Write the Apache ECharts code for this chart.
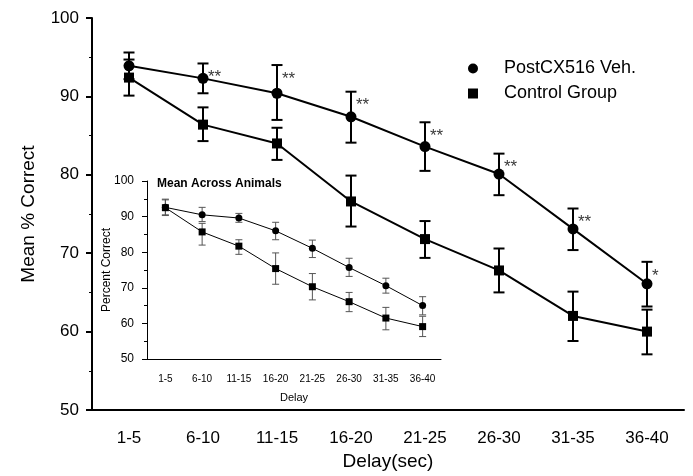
<!DOCTYPE html>
<html>
<head>
<meta charset="utf-8">
<script src="https://cdn.jsdelivr.net/npm/echarts@6/dist/echarts.min.js"></script>
<style>
  html, body { margin: 0; padding: 0; background: #fff; }
  #chart { width: 693px; height: 476px; }
</style>
</head>
<body>
<div id="chart"></div>
<script>
// delay bins
var categories = ['1-5', '6-10', '11-15', '16-20', '21-25', '26-30', '31-35', '36-40'];

// main chart
var postMean = [93.9, 92.3, 90.4, 87.4, 83.6, 80.1, 73.1, 66.1];
var postHigh = [95.6, 94.2, 94.0, 90.6, 86.7, 82.7, 75.7, 68.9];
var postLow = [92.2, 90.4, 87.0, 84.1, 80.5, 77.4, 70.4, 63.2];
var ctrlMean = [92.4, 86.4, 84.0, 76.6, 71.8, 67.8, 62.0, 60.0];
var ctrlHigh = [94.7, 88.6, 86.0, 79.9, 74.1, 70.6, 65.1, 62.8];
var ctrlLow = [90.1, 84.3, 81.9, 73.4, 69.4, 65.0, 58.8, 57.1];
var sig = ['', '**', '**', '**', '**', '**', '**', '*'];

// inset: mean across animals
var insetPostMean = [92.6, 90.5, 89.6, 86.0, 81.1, 75.7, 70.6, 65.0];
var insetPostHigh = [94.9, 92.6, 90.9, 88.4, 83.4, 78.3, 72.7, 67.5];
var insetPostLow = [90.5, 88.6, 88.4, 83.5, 78.5, 73.2, 68.5, 62.4];
var insetCtrlMean = [92.5, 85.7, 81.7, 75.4, 70.3, 66.1, 61.5, 59.1];
var insetCtrlHigh = [94.7, 88.1, 83.5, 79.8, 74.0, 68.7, 64.5, 62.0];
var insetCtrlLow = [90.3, 82.0, 79.4, 71.0, 66.6, 63.3, 58.2, 56.3];

var yTicks = [50, 100, 10]; // min, max, step

var FONT = '"Liberation Sans", Arial, sans-serif';

function errData(low, high) {
    return low.map(function (v, i) { return [i, v, high[i]]; });
}

// error bar with caps
function errorBar(capHalf, width, color) {
    return function (params, api) {
        var x = api.value(0);
        var lo = api.coord([x, api.value(1)]);
        var hi = api.coord([x, api.value(2)]);
        var style = { stroke: color, lineWidth: width };
        return {
            type: 'group',
            children: [
                { type: 'line', shape: { x1: hi[0], y1: hi[1], x2: lo[0], y2: lo[1] }, style: style },
                { type: 'line', shape: { x1: hi[0] - capHalf, y1: hi[1], x2: hi[0] + capHalf, y2: hi[1] }, style: style },
                { type: 'line', shape: { x1: lo[0] - capHalf, y1: lo[1], x2: lo[0] + capHalf, y2: lo[1] }, style: style }
            ]
        };
    };
}

var sigData = [];
sig.forEach(function (s, i) {
    if (s) sigData.push({ value: [i, postHigh[i]], label: { formatter: s } });
});

var mcharts = echarts.init(document.getElementById('chart'));

var option = {
    animation: false,
    textStyle: { fontFamily: FONT },
    title: {
        text: 'Mean Across Animals',
        left: 157,
        top: 178,
        padding: 0,
        textStyle: { fontFamily: FONT, fontSize: 12, fontWeight: 'bold', color: '#000' }
    },
    legend: {
        orient: 'vertical',
        left: 468,
        top: 59,
        padding: 0,
        itemWidth: 10,
        itemHeight: 10,
        itemGap: 6,
        textStyle: { fontFamily: FONT, fontSize: 18, color: '#000', padding: [0, 0, 0, 21], lineHeight: 19 },
        data: [
            { name: 'PostCX516 Veh.', icon: 'circle' },
            { name: 'Control Group', icon: 'rect' }
        ]
    },
    grid: [
        { left: 92, right: 9, top: 18, bottom: 64 },
        { left: 147, width: 294, top: 181, height: 178 }
    ],
    xAxis: [
        {
            gridIndex: 0,
            type: 'category',
            data: categories,
            name: 'Delay(sec)',
            nameLocation: 'middle',
            nameGap: 42,
            nameTextStyle: { fontFamily: FONT, fontSize: 19, color: '#000' },
            axisLine: { lineStyle: { color: '#000', width: 2 } },
            axisTick: { alignWithLabel: true, length: 7, lineStyle: { color: '#000', width: 2 } },
            axisLabel: { fontFamily: FONT, fontSize: 17, color: '#000', margin: 20 },
            splitLine: { show: false }
        },
        {
            gridIndex: 1,
            type: 'category',
            data: categories,
            name: 'Delay',
            nameLocation: 'middle',
            nameGap: 33,
            nameTextStyle: { fontFamily: FONT, fontSize: 11, color: '#000' },
            axisLine: { lineStyle: { color: '#000', width: 1 } },
            axisTick: { alignWithLabel: true, length: 5, lineStyle: { color: '#000' } },
            axisLabel: { fontFamily: FONT, fontSize: 10, color: '#000', margin: 15 },
            splitLine: { show: false }
        }
    ],
    yAxis: [
        {
            gridIndex: 0,
            type: 'value',
            min: yTicks[0],
            max: yTicks[1],
            interval: yTicks[2],
            name: 'Mean % Correct',
            nameLocation: 'middle',
            nameGap: 54,
            nameTextStyle: { fontFamily: FONT, fontSize: 19, color: '#000' },
            axisLine: { show: true, lineStyle: { color: '#000', width: 2 } },
            axisTick: { show: true, length: 6, lineStyle: { color: '#000', width: 2 } },
            minorTick: { show: true, splitNumber: 2, length: 3, lineStyle: { color: '#000', width: 1 } },
            axisLabel: { fontFamily: FONT, fontSize: 17, color: '#000', margin: 13 },
            splitLine: { show: false }
        },
        {
            gridIndex: 1,
            type: 'value',
            min: yTicks[0],
            max: yTicks[1],
            interval: yTicks[2],
            name: 'Percent Correct',
            nameLocation: 'middle',
            nameGap: 34,
            nameMoveOverlap: false,
            nameTextStyle: { fontFamily: FONT, fontSize: 12, color: '#000' },
            axisLine: { show: true, lineStyle: { color: '#000', width: 1 } },
            axisTick: { show: true, length: 5, lineStyle: { color: '#000' } },
            minorTick: { show: true, splitNumber: 2, length: 3, lineStyle: { color: '#000' } },
            axisLabel: { fontFamily: FONT, fontSize: 12, color: '#000', margin: 13 },
            splitLine: { show: false }
        }
    ],
    series: [
        // main chart error bars
        {
            type: 'custom', xAxisIndex: 0, yAxisIndex: 0, z: 2,
            renderItem: errorBar(5.5, 2, '#000'),
            encode: { x: 0, y: [1, 2] },
            data: errData(postLow, postHigh)
        },
        {
            type: 'custom', xAxisIndex: 0, yAxisIndex: 0, z: 2,
            renderItem: errorBar(5.5, 2, '#000'),
            encode: { x: 0, y: [1, 2] },
            data: errData(ctrlLow, ctrlHigh)
        },
        {
            name: 'PostCX516 Veh.',
            type: 'line', xAxisIndex: 0, yAxisIndex: 0, z: 3,
            symbol: 'circle', symbolSize: 11,
            lineStyle: { color: '#000', width: 2 },
            itemStyle: { color: '#000' },
            data: postMean
        },
        {
            name: 'Control Group',
            type: 'line', xAxisIndex: 0, yAxisIndex: 0, z: 3,
            symbol: 'rect', symbolSize: 10,
            lineStyle: { color: '#000', width: 2 },
            itemStyle: { color: '#000' },
            data: ctrlMean
        },
        // significance stars
        {
            type: 'scatter', xAxisIndex: 0, yAxisIndex: 0, z: 4,
            symbolSize: 0,
            silent: true,
            label: {
                show: true, position: 'right', distance: 5, offset: [0, 14],
                fontFamily: FONT, fontSize: 17, color: '#000'
            },
            data: sigData
        },
        // inset error bars
        {
            type: 'custom', xAxisIndex: 1, yAxisIndex: 1, z: 2,
            renderItem: errorBar(3.5, 1, '#555'),
            encode: { x: 0, y: [1, 2] },
            data: errData(insetPostLow, insetPostHigh)
        },
        {
            type: 'custom', xAxisIndex: 1, yAxisIndex: 1, z: 2,
            renderItem: errorBar(3.5, 1, '#555'),
            encode: { x: 0, y: [1, 2] },
            data: errData(insetCtrlLow, insetCtrlHigh)
        },
        {
            type: 'line', xAxisIndex: 1, yAxisIndex: 1, z: 3,
            symbol: 'circle', symbolSize: 7,
            lineStyle: { color: '#000', width: 1 },
            itemStyle: { color: '#000' },
            data: insetPostMean
        },
        {
            type: 'line', xAxisIndex: 1, yAxisIndex: 1, z: 3,
            symbol: 'rect', symbolSize: 7,
            lineStyle: { color: '#000', width: 1 },
            itemStyle: { color: '#000' },
            data: insetCtrlMean
        }
    ]
};

mcharts.setOption(option, true);
</script>
</body>
</html>
